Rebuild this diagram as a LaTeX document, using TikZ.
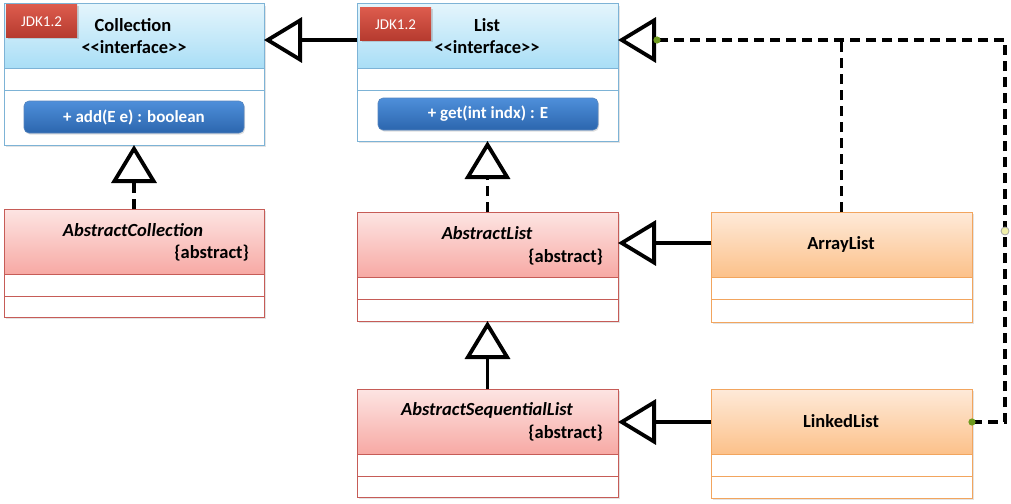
\documentclass[tikz,border=0pt]{standalone}
\usepackage{fontspec}
\setmainfont{Carlito}
\usetikzlibrary{arrows.meta,shadows,calc}
\definecolor{ifcTop}{HTML}{E4F5FC}
\definecolor{ifcBot}{HTML}{A9DEF6}
\definecolor{ifcLine}{HTML}{7DB3D6}
\definecolor{absTop}{HTML}{FDE5E3}
\definecolor{absBot}{HTML}{F7A9A4}
\definecolor{absLine}{HTML}{C65C57}
\definecolor{conTop}{HTML}{FEEAD9}
\definecolor{conBot}{HTML}{FCC18A}
\definecolor{conLine}{HTML}{F2A55E}
\definecolor{btnTop}{HTML}{4E8FDA}
\definecolor{btnBot}{HTML}{2C66AE}
\definecolor{jdkTop}{HTML}{DC5B4D}
\definecolor{jdkBot}{HTML}{B53A2E}
\definecolor{dotGreen}{HTML}{6E9A1E}
\definecolor{dotYellow}{HTML}{F0F0A8}
\newcommand\classbox[8]{%
  \node[#2box, minimum width=#5pt-#3pt, minimum height=#6pt-#4pt] (#1) at (#3,#4) {};
  \node[#2hdr, minimum width=#5pt-#3pt, minimum height=#7pt-#4pt] (#1h) at (#3,#4) {};
  \draw[#2sep] (#3,#8) -- (#5,#8);
}
\begin{document}
\begin{tikzpicture}[x=1pt,y=-1pt,
  every node/.style={inner sep=0pt, outer sep=0pt},
  basebox/.style={rectangle, anchor=north west, line width=1pt, fill=white,
    drop shadow={shadow xshift=1.5pt, shadow yshift=-2pt, opacity=0.22}},
  basehdr/.style={rectangle, anchor=north west, line width=1pt},
  ifcbox/.style={basebox, draw=ifcLine},
  ifchdr/.style={basehdr, draw=ifcLine, top color=ifcTop, bottom color=ifcBot},
  ifcsep/.style={draw=ifcLine, line width=1pt},
  absbox/.style={basebox, draw=absLine},
  abshdr/.style={basehdr, draw=absLine, top color=absTop, bottom color=absBot},
  abssep/.style={draw=absLine, line width=1pt},
  conbox/.style={basebox, draw=conLine},
  conhdr/.style={basehdr, draw=conLine, top color=conTop, bottom color=conBot},
  consep/.style={draw=conLine, line width=1pt},
  ttl/.style={font=\fontsize{18.5}{22}\selectfont\bfseries},
  ittl/.style={font=\fontsize{18.5}{22}\selectfont\bfseries\itshape},
  btn/.style={rectangle, anchor=north west, rounded corners=5pt, top color=btnTop, bottom color=btnBot,
    draw=btnBot!80!white, line width=0.6pt,
    drop shadow={shadow xshift=1pt, shadow yshift=-1.5pt, opacity=0.25}},
  btntxt/.style={text=white, font=\fontsize{17}{20}\selectfont\bfseries},
  jdk/.style={rectangle, anchor=north west, top color=jdkTop, bottom color=jdkBot,
    drop shadow={shadow xshift=1.5pt, shadow yshift=-1.5pt, opacity=0.3}},
  jdktxt/.style={text=white, font=\fontsize{15}{18}\selectfont},
  gen/.style={line width=3.8pt, -{Triangle[open, length=38pt, width=45pt]}},
  dashline/.style={dash pattern=on 10pt off 6pt},
  conn/.style={line width=3.8pt}
]
\useasboundingbox (0,0) rectangle (1011,503);

% classes
\classbox{coll}{ifc}{4}{4}{264}{145}{68}{90}
\classbox{list}{ifc}{357}{4}{618}{141}{68}{90}
\classbox{acoll}{abs}{4}{209}{264}{317}{274}{296}
\classbox{alist}{abs}{357}{212}{618}{321}{277}{299}
\classbox{arr}{con}{711}{212}{972}{322}{277}{299}
\classbox{aseq}{abs}{357}{389}{618}{497}{454}{476}
\classbox{link}{con}{711}{389}{972}{498}{454}{476}

% badges
\node[jdk, minimum width=71pt, minimum height=33pt] (jdk1) at (6,5) {};
\node[jdktxt] (jdk1t) at (jdk1.center) {JDK1.2};
\node[jdk, minimum width=71pt, minimum height=33pt] (jdk2) at (360,8) {};
\node[jdktxt] (jdk2t) at (jdk2.center) {JDK1.2};

% titles
\node[ttl] (collt) at (133,25) {Collection};
\node[ttl] (colls) at (134,47) {<{}<interface>{}>};
\node[ttl] (listt) at (487,25) {List};
\node[ttl] (lists) at (487,47) {<{}<interface>{}>};
\node[ittl] (acollt) at (133,230) {AbstractCollection};
\node[ttl, anchor=east] (acolls) at (249,253) {\{abstract\}};
\node[ittl] (alistt) at (487,233) {AbstractList};
\node[ttl, anchor=east] (alists) at (603,257) {\{abstract\}};
\node[ttl] (arrt) at (841,244) {ArrayList};
\node[ittl] (aseqt) at (487,410) {AbstractSequentialList};
\node[ttl, anchor=east] (aseqs) at (603,433) {\{abstract\}};
\node[ttl] (linkt) at (841,421) {LinkedList};

% methods
\node[btn, minimum width=220pt, minimum height=32pt] (m1) at (24,101) {};
\node[btntxt] (m1t) at (m1.center) {+ add(E e) : boolean};
\node[btn, minimum width=220pt, minimum height=32pt] (m2) at (378,98) {};
\node[btntxt] (m2t) at (m2.center) {+ get(int indx) : E};

% generalizations
\draw[gen] ([yshift=-36pt]list.north west) -- ([yshift=-36pt]coll.north east);
\draw[gen] ([yshift=-31pt]arr.north west) -- ([yshift=-31pt]alist.north east);
\draw[gen] (aseq.north) -- (alist.south);
\draw[gen] ([yshift=-33pt]link.north west) -- ([yshift=-33pt]aseq.north east);
% realizations
\draw[gen, dashline] (acoll.north) -- (coll.south);
\draw[gen, dashline] (alist.north) -- (list.south);
\coordinate (bend) at (1005,40);
\coordinate (base) at ([xshift=39pt,yshift=-36pt]list.north east);
\coordinate (lend) at ([yshift=-33pt]link.north east);
\coordinate (join) at (arr.north |- bend);
\draw[conn, dashline] (arr.north) -- (join);
\draw[gen, dashline] (lend) -| (bend) -- ([yshift=-36pt]list.north east);

% handles
\fill[dotGreen] (base) circle (3.6pt);
\fill[dotGreen] (lend) circle (3.6pt);
\coordinate (mid) at (1005,231);
\filldraw[fill=dotYellow, draw=gray!70, line width=0.8pt] (mid) circle (4pt);
\end{tikzpicture}
\end{document}
